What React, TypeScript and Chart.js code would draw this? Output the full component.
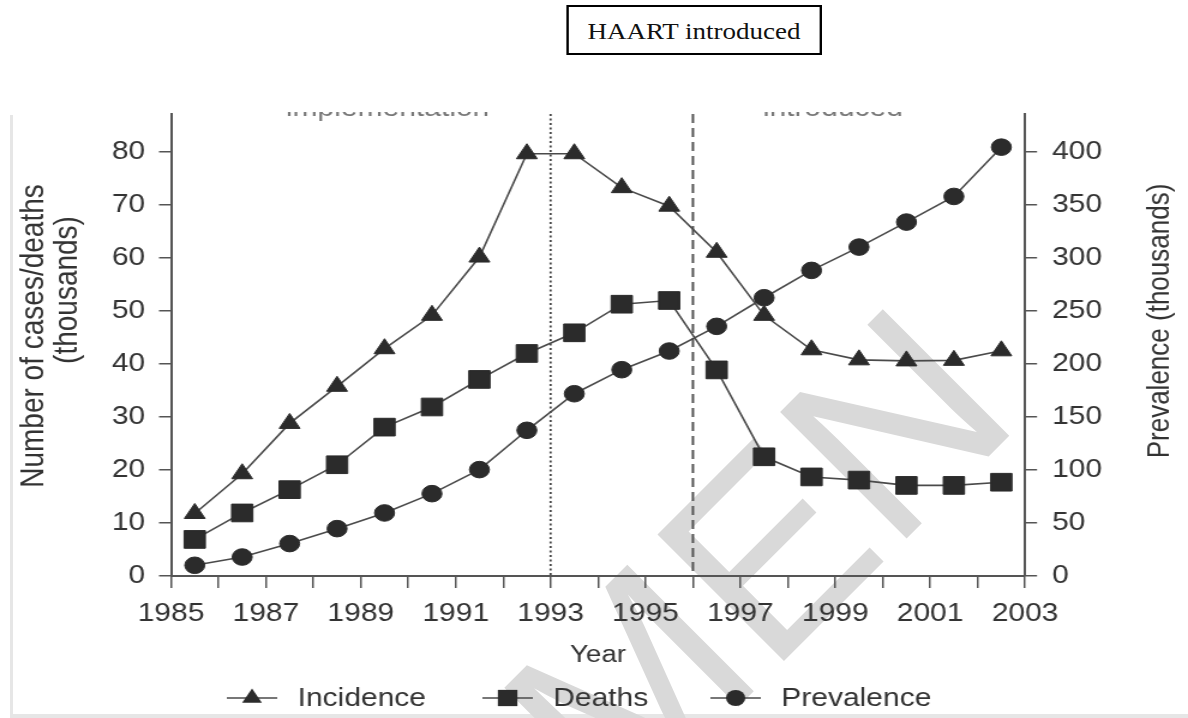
import React, { useEffect, useRef } from 'react';
import { Chart, registerables } from 'chart.js';

Chart.register(...registerables);

// ---- data ----
const years = [1985, 1986, 1987, 1988, 1989, 1990, 1991, 1992, 1993, 1994, 1995, 1996, 1997, 1998, 1999, 2000, 2001, 2002];
const incidence = [11.8, 19.3, 28.8, 35.8, 42.9, 49.2, 60.2, 79.7, 79.7, 73.3, 69.8, 61.1, 49.2, 42.7, 40.8, 40.6, 40.7, 42.5];
const deaths = [6.9, 11.9, 16.3, 21.0, 28.1, 31.9, 37.1, 42.0, 45.9, 51.3, 52.0, 38.9, 22.5, 18.7, 18.1, 17.1, 17.1, 17.7];
const prevalence = [10.1, 17.9, 30.6, 44.7, 59.5, 77.7, 100.4, 137.5, 172.0, 194.7, 212.3, 235.6, 262.6, 288.4, 310.4, 334.0, 358.2, 404.7];
const xTickYears = [1985, 1986, 1987, 1988, 1989, 1990, 1991, 1992, 1993, 1994, 1995, 1996, 1997, 1998, 1999, 2000, 2001, 2002, 2003];
const xLabelYears = [1985, 1987, 1989, 1991, 1993, 1995, 1997, 1999, 2001, 2003];
const leftTicks = [0, 10, 20, 30, 40, 50, 60, 70, 80];
const rightTicks = [0, 50, 100, 150, 200, 250, 300, 350, 400];
const seriesNames = ['Incidence', 'Deaths', 'Prevalence'];
const seriesStyles = ['triangle', 'rect', 'circle'];
const eventYears = [1993, 1996];
const topFragments = ['implementation', 'introduced'];

const FONT = '"Liberation Sans", Arial, Helvetica, sans-serif';
const TEXT = '#333333';
const AXIS = '#555555';
const LINE = '#4a4a4a';
const MARK = '#2b2b2b';
const STRETCH = 1.2;
const CW = 990;
const CH = 718;

function drawMarker(ctx: CanvasRenderingContext2D, style: string, x: number, y: number, r: number) {
  ctx.beginPath();
  if (style === 'triangle') {
    let rad = 0;
    ctx.moveTo(x + Math.sin(rad) * r, y - Math.cos(rad) * r);
    rad += (2 * Math.PI) / 3;
    ctx.lineTo(x + Math.sin(rad) * r, y - Math.cos(rad) * r);
    rad += (2 * Math.PI) / 3;
    ctx.lineTo(x + Math.sin(rad) * r, y - Math.cos(rad) * r);
    ctx.closePath();
  } else if (style === 'rect') {
    const s = Math.SQRT1_2 * r;
    ctx.rect(x - s, y - s, 2 * s, 2 * s);
  } else {
    ctx.arc(x, y, r, 0, Math.PI * 2);
  }
  ctx.fill();
}

const decorPlugin = {
  id: 'decor',
  beforeDatasetsDraw(chart: any) {
    const { ctx, chartArea, scales } = chart;
    ctx.save();
    eventYears.forEach((yr, i) => {
      const x = scales.x.getPixelForValue(yr);
      ctx.beginPath();
      ctx.strokeStyle = i === 0 ? '#444' : '#555';
      ctx.lineWidth = i === 0 ? 1.8 : 2;
      ctx.setLineDash(i === 0 ? [2, 2.5] : [9, 5]);
      ctx.moveTo(x, chartArea.top);
      ctx.lineTo(x, chartArea.bottom);
      ctx.stroke();
    });
    ctx.restore();
  },
  afterDraw(chart: any) {
    const { ctx } = chart;
    ctx.save();
    ctx.fillStyle = TEXT;
    ctx.textAlign = 'center';
    ctx.textBaseline = 'middle';
    // left axis title (two lines)
    ctx.font = `28px ${FONT}`;
    ctx.save();
    ctx.translate(28.5, 336);
    ctx.rotate(-Math.PI / 2);
    ctx.fillText('Number of cases/deaths', 0, 0);
    ctx.restore();
    ctx.save();
    ctx.translate(56.5, 290);
    ctx.rotate(-Math.PI / 2);
    ctx.fillText('(thousands)', 0, 0);
    ctx.restore();
    // right axis title
    ctx.font = `26px ${FONT}`;
    ctx.save();
    ctx.translate(966.7, 321);
    ctx.rotate(-Math.PI / 2);
    ctx.fillText('Prevalence (thousands)', 0, 0);
    ctx.restore();

    // legend
    const starts = [189, 402, 592];
    const ly = 698;
    ctx.font = `25px ${FONT}`;
    ctx.textAlign = 'left';
    seriesNames.forEach((name, i) => {
      const x0 = starts[i];
      ctx.beginPath();
      ctx.strokeStyle = LINE;
      ctx.lineWidth = 1.6;
      ctx.moveTo(x0, ly);
      ctx.lineTo(x0 + 42, ly);
      ctx.stroke();
      ctx.fillStyle = MARK;
      const st = seriesStyles[i];
      drawMarker(ctx, st, x0 + 21, ly, st === 'rect' ? 11.5 : st === 'triangle' ? 9.5 : 8);
      ctx.fillStyle = TEXT;
      ctx.fillText(name, x0 + 59, ly + 1);
    });

    // clipped fragments of labels at the top edge
    ctx.save();
    ctx.beginPath();
    ctx.rect(0, 112, CW, 14);
    ctx.clip();
    ctx.fillStyle = '#777';
    ctx.font = `25px ${FONT}`;
    ctx.textAlign = 'center';
    ctx.textBaseline = 'alphabetic';
    ctx.fillText(topFragments[0], 323, 116);
    ctx.fillText(topFragments[1], 694, 116);
    ctx.restore();
    ctx.restore();
  },
};

function makeData(values: number[]) {
  return years.map((yr, i) => ({ x: yr + 0.5, y: values[i] }));
}

export default function App() {
  const chartRef = useRef<HTMLCanvasElement>(null);
  const bgRef = useRef<HTMLCanvasElement>(null);

  useEffect(() => {
    const bg = bgRef.current;
    if (bg) {
      const c = bg.getContext('2d');
      if (c) {
        c.clearRect(0, 0, 1188, 718);
        c.fillStyle = '#e6e6e6';
        c.fillRect(10, 115, 3, 603);
        c.fillRect(10, 714, 1178, 4);
        c.save();
        c.translate(64, 1381);
        c.rotate(-Math.PI / 4);
        c.font = `260px ${FONT}`;
        c.fillStyle = '#d9d9d9';
        c.textBaseline = 'alphabetic';
        c.fillText('SPECIMEN', 0, 0);
        c.restore();
      }
    }

    if (!chartRef.current) return;
    const common = {
      showLine: true,
      borderColor: LINE,
      borderWidth: 1.6,
      pointBackgroundColor: MARK,
      pointBorderColor: MARK,
      pointBorderWidth: 1,
      pointHoverRadius: 0,
      tension: 0,
      fill: false,
    };
    const chart = new Chart(chartRef.current, {
      type: 'scatter',
      data: {
        datasets: [
          { ...common, label: seriesNames[0], data: makeData(incidence), pointStyle: 'triangle', pointRadius: 10, yAxisID: 'y' },
          { ...common, label: seriesNames[1], data: makeData(deaths), pointStyle: 'rect', pointRadius: 12.5, yAxisID: 'y' },
          { ...common, label: seriesNames[2], data: makeData(prevalence), pointStyle: 'circle', pointRadius: 8.3, yAxisID: 'y2' },
        ],
      },
      options: {
        responsive: false,
        animation: false,
        devicePixelRatio: 1,
        events: [],
        layout: { padding: { top: 114, left: 0, right: 0, bottom: 0 } },
        plugins: { legend: { display: false }, tooltip: { enabled: false } },
        scales: {
          x: {
            type: 'linear',
            min: 1985,
            max: 2003,
            afterBuildTicks: (s: any) => {
              s.ticks = xTickYears.map((v) => ({ value: v }));
            },
            afterFit: (s: any) => {
              s.height = 142;
            },
            ticks: {
              autoSkip: false,
              maxRotation: 0,
              padding: 11,
              color: TEXT,
              font: { size: 25, family: FONT },
              callback: (v: any) => (xLabelYears.includes(Number(v)) ? String(v) : ''),
            },
            grid: { drawOnChartArea: false, drawTicks: true, tickLength: 12, color: AXIS, lineWidth: 1.5 },
            border: { display: true, color: AXIS, width: 2 },
            title: {
              display: true,
              text: 'Year',
              color: TEXT,
              font: { size: 23, family: FONT },
              padding: { top: 0, bottom: 49 },
            },
          },
          y: {
            type: 'linear',
            position: 'left',
            min: 0,
            max: 87.2,
            afterBuildTicks: (s: any) => {
              s.ticks = leftTicks.map((v) => ({ value: v }));
            },
            afterFit: (s: any) => {
              s.width = 142.5;
            },
            ticks: { padding: 11.5, color: TEXT, font: { size: 25, family: FONT } },
            grid: { drawOnChartArea: false, drawTicks: true, tickLength: 10, color: AXIS, lineWidth: 1.5 },
            border: { display: true, color: AXIS, width: 2 },
          },
          y2: {
            type: 'linear',
            position: 'right',
            min: 0,
            max: 436,
            afterBuildTicks: (s: any) => {
              s.ticks = rightTicks.map((v) => ({ value: v }));
            },
            afterFit: (s: any) => {
              s.width = CW - 854.2;
            },
            ticks: { padding: 12.5, color: TEXT, font: { size: 25, family: FONT } },
            grid: { drawOnChartArea: false, drawTicks: true, tickLength: 10, color: AXIS, lineWidth: 1.5 },
            border: { display: true, color: AXIS, width: 2 },
          },
        },
      },
      plugins: [decorPlugin],
    } as any);
    return () => chart.destroy();
  }, []);

  return (
    <div style={{ position: 'absolute', left: 0, top: 0, width: 1188, height: 718, overflow: 'hidden', background: '#fff' }}>
      <canvas ref={bgRef} width={1188} height={718} style={{ position: 'absolute', left: 0, top: 0 }} />
      <div
        style={{
          position: 'absolute',
          left: 0,
          top: 0,
          width: CW,
          height: CH,
          transform: `scaleX(${STRETCH})`,
          transformOrigin: '0 0',
        }}
      >
        <canvas ref={chartRef} width={CW} height={CH} />
        <div
          style={{
            position: 'absolute',
            left: 471.7,
            top: 5,
            width: 213.3,
            height: 50,
            border: '2px solid #000',
            boxSizing: 'border-box',
            background: '#fff',
          }}
        >
          <span
            style={{
              position: 'absolute',
              left: 0,
              right: 0,
              top: 14,
              textAlign: 'center',
              fontFamily: '"Liberation Serif", "Times New Roman", serif',
              fontSize: 22.5,
              lineHeight: '22.5px',
              color: '#111',
              whiteSpace: 'nowrap',
            }}
          >
            HAART introduced
          </span>
        </div>
      </div>
    </div>
  );
}
